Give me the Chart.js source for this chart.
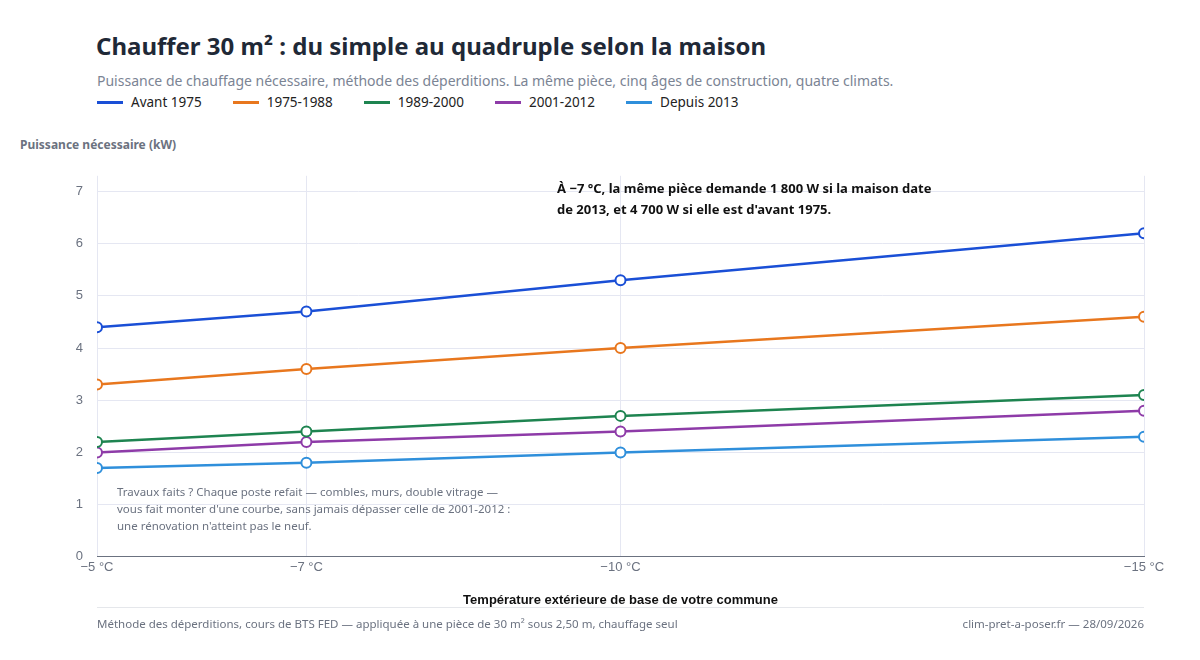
<!DOCTYPE html>
<html lang="fr">
<head>
<meta charset="UTF-8">
<style>
    body { margin: 0; width: 1200px; height: 660px; position: relative; font-family: "Segoe UI", "Noto Sans", sans-serif; background: #fff; overflow: hidden; }
    .abs { position: absolute; }
    #title { left: 96px; top: 29px; font-size: 24px; font-weight: bold; color: #1f2937; }
    #sub { left: 97px; top: 71px; font-size: 14px; color: #7b8494; }
    #legend { left: 97px; top: 93px; font-size: 13.5px; color: #222; display: flex; }
    #legend span { display: inline-flex; align-items: center; margin-right: 31px; }
    #legend i { display: inline-block; width: 26px; height: 3px; margin-right: 8px; }
    #ytitle { left: 20px; top: 136px; font-size: 12px; font-weight: bold; color: #6b7280; }
    #chartbox { left: 0; top: 154px; width: 1200px; height: 458px; }
    #note1 { left: 557px; top: 178px; font-size: 13px; font-weight: bold; color: #111; line-height: 21px; width: 380px; }
    #note2 { left: 117px; top: 483px; font-size: 11.5px; color: #6b7280; line-height: 17px; width: 400px; }
    #foot { left: 97px; top: 607px; width: 1047px; border-top: 1px solid #e5e7eb; font-size: 11.5px; color: #6b7280; padding-top: 8px; display: flex; justify-content: space-between; }
</style>
</head>
<body>
<div id="title" class="abs">Chauffer 30 m² : du simple au quadruple selon la maison</div>
<div id="sub" class="abs">Puissance de chauffage nécessaire, méthode des déperditions. La même pièce, cinq âges de construction, quatre climats.</div>
<div id="legend" class="abs"></div>
<div id="ytitle" class="abs">Puissance nécessaire (kW)</div>
<div id="chartbox" class="abs"><canvas id="c"></canvas></div>
<div id="note1" class="abs">À −7 °C, la même pièce demande 1 800 W si la maison date de 2013, et 4 700 W si elle est d'avant 1975.</div>
<div id="note2" class="abs">Travaux faits ? Chaque poste refait — combles, murs, double vitrage — vous fait monter d'une courbe, sans jamais dépasser celle de 2001-2012 : une rénovation n'atteint pas le neuf.</div>
<div id="foot" class="abs"><span>Méthode des déperditions, cours de BTS FED — appliquée à une pièce de 30 m² sous 2,50 m, chauffage seul</span><span>clim-pret-a-poser.fr — 28/09/2026</span></div>

<script src="https://cdn.jsdelivr.net/npm/chart.js"></script>
<script>
var temperatures = [-5, -7, -10, -15];
var seriesNames = ['Avant 1975', '1975-1988', '1989-2000', '2001-2012', 'Depuis 2013'];
var avant1975 = [4.4, 4.7, 5.3, 6.2];
var p1975_1988 = [3.3, 3.6, 4.0, 4.6];
var p1989_2000 = [2.2, 2.4, 2.7, 3.1];
var p2001_2012 = [2.0, 2.2, 2.4, 2.8];
var depuis2013 = [1.7, 1.8, 2.0, 2.3];
var colors = ['#1a4fd6', '#e8771e', '#1e8450', '#8e3ba8', '#2f8fdb'];

var allValues = [avant1975, p1975_1988, p1989_2000, p2001_2012, depuis2013];

var legend = document.getElementById('legend');
seriesNames.forEach(function (n, i) {
    legend.innerHTML += '<span><i style="background:' + colors[i] + '"></i>' + n + '</span>';
});

var datasets = allValues.map(function (vals, i) {
    return {
        label: seriesNames[i],
        data: vals.map(function (v, j) { return { x: temperatures[j], y: v }; }),
        borderColor: colors[i],
        backgroundColor: '#fff',
        pointBackgroundColor: '#fff',
        pointBorderColor: colors[i],
        pointBorderWidth: 2,
        pointRadius: 5,
        borderWidth: 2.5,
        tension: 0
    };
});

new Chart(document.getElementById('c'), {
    type: 'line',
    data: { datasets: datasets },
    options: {
        responsive: true,
        maintainAspectRatio: false,
        animation: false,
        layout: { padding: { left: 57, right: 56, top: 0, bottom: 0 } },
        plugins: { legend: { display: false }, tooltip: { enabled: false } },
        scales: {
            x: {
                type: 'linear',
                reverse: true,
                min: -15, max: -5,
                afterBuildTicks: function (s) { s.ticks = temperatures.map(function (t) { return { value: t }; }); },
                ticks: {
                    color: '#6b7280', font: { size: 13 },
                    callback: function (v) { return '−' + Math.abs(v) + ' °C'; }
                },
                grid: { color: '#e5e7f2', drawTicks: false },
                border: { color: '#6b7280' },
                title: { display: true, text: 'Température extérieure de base de votre commune', color: '#111', font: { size: 13, weight: 'bold' }, padding: { top: 14 } }
            },
            y: {
                min: 0, max: 7.3,
                afterBuildTicks: function (s) { s.ticks = [0,1,2,3,4,5,6,7].map(function (t) { return { value: t }; }); },
                afterFit: function (s) { s.width = 40; },
                ticks: { color: '#6b7280', font: { size: 13 }, padding: 14 },
                grid: { color: '#e5e7f2', drawTicks: false },
                border: { display: false }
            }
        }
    }
});
</script>
</body>
</html>
